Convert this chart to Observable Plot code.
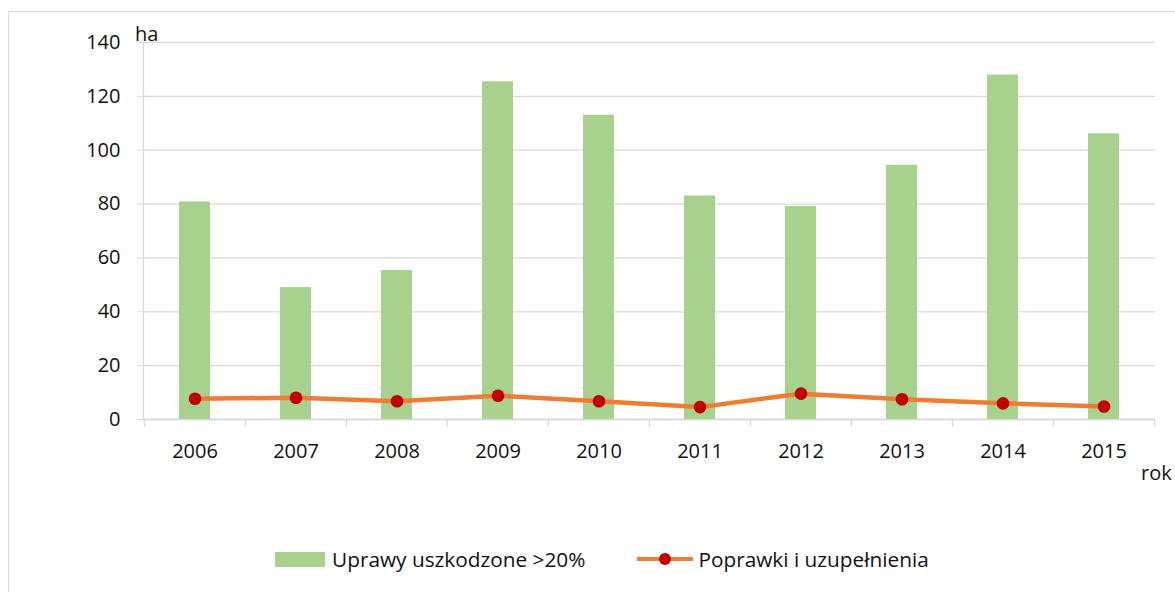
<!DOCTYPE html>
<html><head><meta charset="utf-8">
<script src="https://cdn.jsdelivr.net/npm/d3@7"></script>
<script src="https://cdn.jsdelivr.net/npm/@observablehq/plot@0.6"></script>
<style>
body{margin:0;background:#fff;font-family:"Open Sans",sans-serif;}
#wrap{position:relative;width:1175px;height:592px;overflow:hidden;}
#frame{position:absolute;left:8px;top:11px;width:1200px;height:620px;border:1.5px solid #d9d9d9;box-sizing:border-box}
#chart{position:absolute;left:0;top:0}
.lbl{position:absolute;font-size:20px;color:#111;line-height:1}
#legend{position:absolute;left:275px;top:546px;height:26px;display:flex;align-items:center;font-size:20.8px;color:#111;white-space:nowrap}
.sw{display:inline-block;width:50px;height:15px;background:#a9d18e;margin-right:7px}
.ln{position:relative;display:inline-block;width:56px;height:4px;background:#ed7d31;margin-left:52px;margin-right:5px}
.ln::after{content:"";position:absolute;left:22px;top:-4px;width:12px;height:12px;border-radius:50%;background:#c00000}
</style></head><body>
<div id="wrap"><div id="frame"></div><div id="chart"></div>
<div class="lbl" id="ha" style="left:135px;top:24px">ha</div>
<div class="lbl" id="rok" style="left:1141px;top:463px">rok</div>
<div id="legend"></div></div>
<script>
const years = ["2006","2007","2008","2009","2010","2011","2012","2013","2014","2015"];
const damaged = [80.8,49.0,55.3,125.4,113.0,83.0,79.1,94.4,127.9,106.1];
const repairs = [7.7,8.1,6.8,8.8,6.8,4.6,9.6,7.5,6.0,4.8];
const yTicks = [0,20,40,60,80,100,120,140];
const seriesNames = ["Uprawy uszkodzone >20%","Poprawki i uzupełnienia"];

const data = years.map((y,i)=>({year:y, damaged:damaged[i], repairs:repairs[i]}));
const W = 1175, H = 540, ML = 143, MR = 20, MT = 42, MB = 121;
const step = (W - ML - MR) / years.length;

const chart = Plot.plot({
  width: W, height: H,
  marginLeft: ML, marginRight: MR, marginTop: MT, marginBottom: MB,
  style: {fontFamily: '"Open Sans", sans-serif', fontSize: "20px", color: "#111", background: "transparent"},
  x: {type: "band", domain: years, paddingInner: 0.69, paddingOuter: 0.345, label: null},
  y: {domain: [0, 140], ticks: yTicks, label: null},
  marks: [
    Plot.gridY(yTicks, {stroke: "#d9d9d9", strokeOpacity: 1, strokeWidth: 1.3}),
    Plot.frame({anchor: "left", stroke: "#d9d9d9", strokeWidth: 1.3}),
    Plot.axisY(yTicks, {tickSize: 6, tickPadding: 17, stroke: "#d9d9d9", fill: "#111", fontSize: 20, label: null}),
    Plot.barY(data, {x: "year", y: "damaged", fill: "#a9d18e"}),
    Plot.ruleY([0], {stroke: "#d9d9d9", strokeWidth: 1.5}),
    Plot.axisX(years, {tickSize: 8, dx: -step/2, tickFormat: () => "", stroke: "#d9d9d9", strokeWidth: 1.3, label: null}),
    Plot.axisX([years[years.length-1]], {tickSize: 8, dx: step/2, tickFormat: () => "", stroke: "#d9d9d9", strokeWidth: 1.3, label: null}),
    Plot.axisX(years, {tickSize: 0, tickPadding: 24, fill: "#111", fontSize: 20, label: null}),
    Plot.line(data, {x: "year", y: "repairs", stroke: "#ed7d31", strokeWidth: 4.5}),
    Plot.dot(data, {x: "year", y: "repairs", r: 6.3, fill: "#c00000", stroke: "none"})
  ]
});
document.getElementById("chart").appendChild(chart);

const lg = document.getElementById("legend");
lg.innerHTML = `<span class="sw"></span><span>${seriesNames[0]}</span><span class="ln"></span><span>${seriesNames[1]}</span>`;
</script>
</body></html>
